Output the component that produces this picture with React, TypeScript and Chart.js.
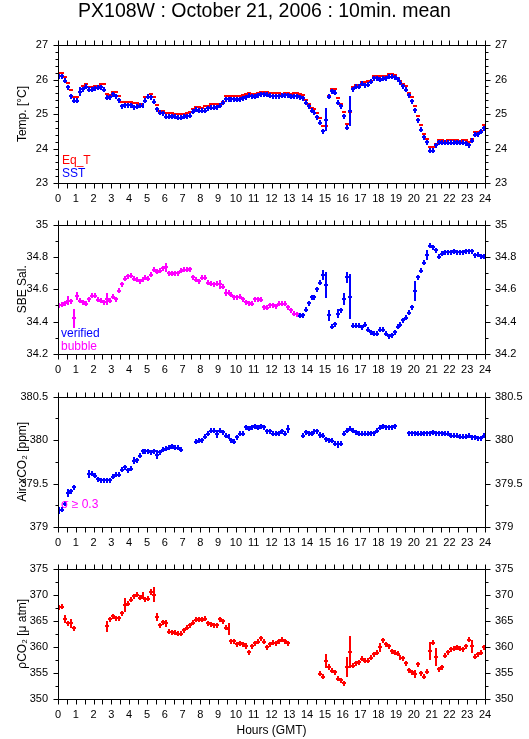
import React, { useEffect, useRef } from "react";
import { Chart, registerables } from "chart.js";
Chart.register(...registerables);

const FONT = "'Liberation Sans', Arial, Helvetica, sans-serif";
const TITLE = "PX108W : October 21, 2006 : 10min. mean";
const BIN_H = 1 / 6; // 10-minute bins, in hours
const N_BINS = 144;
const HOUR_TICKS = Array.from({ length: 25 }, (_, i) => i);

// ---------- Temperature ----------
const sst = [
  26.10, 26.10, 25.96, 25.77, 25.52, 25.39, 25.38, 25.65, 25.72, 25.79,
  25.71, 25.70, 25.74, 25.76, 25.77, 25.71, 25.47, 25.48, 25.57, 25.52,
  25.40, 25.23, 25.26, 25.26, 25.25, 25.20, 25.21, 25.24, 25.24, 25.39,
  25.50, 25.48, 25.36, 25.14, 25.03, 25.02, 24.92, 24.92, 24.93, 24.92,
  24.89, 24.89, 24.92, 24.94, 24.95, 25.07, 25.12, 25.10, 25.10, 25.09,
  25.16, 25.18, 25.18, 25.19, 25.24, 25.33, 25.43, 25.43, 25.43, 25.43,
  25.42, 25.43, 25.46, 25.48, 25.53, 25.51, 25.50, 25.55, 25.57, 25.57,
  25.56, 25.53, 25.52, 25.52, 25.52, 25.53, 25.55, 25.55, 25.50, 25.52,
  25.52, 25.49, 25.45, 25.33, 25.22, 25.09, 25.03, 24.91, 24.75, 24.50,
  24.83, 25.50, 25.66, 25.61, 25.32, 25.22, 24.93, 24.60, 25.08, 25.72,
  25.79, 25.79, 25.88, 25.83, 25.85, 25.93, 26.03, 26.03, 26.00, 26.02,
  26.03, 26.08, 26.08, 26.06, 26.01, 25.90, 25.80, 25.70, 25.55, 25.37,
  25.11, 24.82, 24.54, 24.33, 24.18, 23.94, 23.94, 24.09, 24.18, 24.17,
  24.17, 24.16, 24.17, 24.17, 24.18, 24.17, 24.16, 24.15, 24.09, 24.23,
  24.40, 24.41, 24.48, 24.59,
];
const sstErr: Record<number, number> = { 4: 0.07, 7: 0.12, 32: 0.08, 36: 0.07, 89: 0.05, 90: 0.33, 91: 0.06, 94: 0.05, 96: 0.05, 98: 0.43 };
const eqT = [
  26.18, 26.18, 26.08, 25.89, 25.70, 25.49, 25.48, 25.65, 25.82, 25.88,
  25.78, 25.77, 25.80, 25.82, 25.86, 25.86, 25.57, 25.56, 25.65, 25.63,
  25.52, 25.36, 25.34, 25.34, 25.34, 25.31, 25.31, 25.29, 25.27, 25.50,
  25.50, 25.57, 25.49, 25.26, 25.10, 25.09, 25.02, 25.02, 25.02, 25.00,
  24.99, 24.99, 25.01, 25.04, 25.05, 25.14, 25.21, 25.19, 25.18, 25.23,
  25.23, 25.28, 25.28, 25.28, 25.30, 25.36, 25.52, 25.52, 25.52, 25.52,
  25.52, 25.52, 25.55, 25.57, 25.62, 25.58, 25.58, 25.60, 25.65, 25.65,
  25.64, 25.60, 25.60, 25.60, 25.60, 25.58, 25.60, 25.62, 25.58, 25.61,
  25.61, 25.58, 25.56, 25.41, 25.29, 25.18, 25.14, 25.03, 24.87, 24.65,
  24.65, 25.52, 25.72, 25.72, 25.47, 25.30, 25.06, 24.72, 25.06, 25.77,
  25.85, 25.85, 25.93, 25.93, 25.95, 25.95, 26.11, 26.11, 26.09, 26.09,
  26.11, 26.15, 26.15, 26.13, 26.03, 25.97, 25.88, 25.80, 25.62, 25.48,
  25.22, 24.94, 24.69, 24.43, 24.28, 24.04, 24.04, 24.14, 24.25, 24.25,
  24.23, 24.25, 24.25, 24.25, 24.25, 24.22, 24.25, 24.24, 24.20, 24.28,
  24.48, 24.48, 24.52, 24.67,
];

// ---------- Salinity ----------
const sal = [
  34.500, 34.505, 34.515, 34.530, 34.525, 34.420, 34.560, 34.530, 34.520, 34.510,
  34.540, 34.560, 34.560, 34.535, 34.530, 34.520, 34.540, 34.530, 34.555, 34.540,
  34.590, 34.630, 34.665, 34.680, 34.685, 34.665, 34.660, 34.650, 34.660, 34.670,
  34.665, 34.690, 34.720, 34.710, 34.715, 34.730, 34.735, 34.700, 34.695, 34.700,
  34.700, 34.715, 34.720, 34.720, 34.725, 34.675, 34.660, 34.650, 34.670, 34.670,
  34.640, 34.635, 34.630, 34.635, 34.630, 34.615, 34.580, 34.580, 34.565, 34.550,
  34.550, 34.555, 34.540, 34.520, 34.515, 34.510, 34.540, 34.540, 34.535, 34.490,
  34.485, 34.500, 34.500, 34.495, 34.510, 34.510, 34.510, 34.490, 34.470, 34.450,
  34.445, 34.435, 34.440, 34.475, 34.515, 34.550, 34.550, 34.600, 34.640, 34.690,
  34.625, 34.440, 34.370, 34.385, 34.450, 34.470, 34.540, 34.675, 34.555, 34.375,
  34.375, 34.375, 34.365, 34.380, 34.350, 34.335, 34.325, 34.325, 34.350, 34.350,
  34.325, 34.310, 34.315, 34.335, 34.370, 34.380, 34.410, 34.425, 34.455, 34.490,
  34.590, 34.675, 34.715, 34.765, 34.810, 34.870, 34.860, 34.840, 34.800, 34.820,
  34.830, 34.830, 34.830, 34.835, 34.830, 34.830, 34.830, 34.835, 34.835, 34.835,
  34.810, 34.815, 34.805, 34.800,
];
const salErr: Record<number, number> = { 3: 0.026, 5: 0.06, 6: 0.025, 16: 0.04, 36: 0.025, 54: 0.03, 56: 0.02, 89: 0.03, 90: 0.08, 91: 0.035, 94: 0.03, 96: 0.04, 97: 0.035, 98: 0.14, 120: 0.06, 124: 0.03 };
const SAL_BUBBLE_BINS = 81; // bins 0..80 flagged "bubble", rest "verified"

// ---------- Air xCO2 ----------
const airCO2 = [
  379.19, 379.20, 379.27, 379.39, 379.41, 379.46, null, null, null, null,
  379.61, 379.61, 379.59, 379.55, 379.54, 379.54, 379.54, 379.54, 379.58, 379.60,
  379.60, 379.66, 379.69, 379.65, 379.67, 379.76, 379.77, 379.82, 379.87, 379.87,
  379.87, 379.86, 379.87, 379.83, 379.86, 379.89, 379.90, 379.91, 379.93, 379.91,
  379.91, 379.89, null, null, null, null, 379.98, 379.99, 380.00, 380.04,
  380.07, 380.11, 380.11, 380.07, 380.11, 380.09, 380.05, 380.04, 380.00, 379.98,
  380.03, 380.07, 380.07, 380.15, 380.13, 380.15, 380.16, 380.14, 380.16, 380.15,
  380.10, 380.10, 380.07, 380.07, 380.08, 380.10, 380.07, 380.13, null, null,
  null, null, 380.05, 380.09, 380.08, 380.07, 380.10, 380.10, 380.06, 380.05,
  380.01, 380.00, 379.99, 379.96, 379.95, 379.96, 380.07, 380.11, 380.13, 380.11,
  380.09, 380.07, 380.07, 380.07, 380.07, 380.08, 380.08, 380.11, 380.14, 380.16,
  380.15, 380.15, 380.15, 380.16, null, null, null, null, 380.08, 380.08,
  380.08, 380.07, 380.07, 380.08, 380.08, 380.08, 380.09, 380.08, 380.08, 380.08,
  380.07, 380.07, 380.05, 380.05, 380.05, 380.04, 380.04, 380.04, 380.05, 380.03,
  380.03, 380.02, 380.02, 380.05,
];
const airErr: Record<number, number> = { 0: 0.04, 3: 0.05, 4: 0.03, 10: 0.045, 25: 0.04, 33: 0.05, 46: 0.03, 53: 0.05, 77: 0.045, 88: 0.035, 94: 0.045 };

// ---------- pCO2 ----------
const pCO2 = [
  367.6, 367.7, 365.3, 364.5, 364.5, 363.6, null, null, null, null,
  null, null, null, null, null, null, 363.9, 365.3, 365.9, 365.5,
  365.5, 366.4, 368.0, 368.3, 369.0, 369.7, 370.0, 369.4, 369.8, 369.1,
  369.2, 370.5, 370.0, 365.7, 364.1, 364.7, 364.5, 362.9, 362.8, 362.7,
  362.5, 362.5, 363.2, 363.7, 364.1, 364.6, 365.2, 365.3, 365.2, 365.4,
  364.5, 364.3, 364.1, 364.1, 365.3, 364.9, 363.7, 363.4, 361.1, 361.1,
  360.5, 360.7, 360.5, 360.1, 359.0, 360.1, 360.7, 361.0, 361.6, 361.0,
  359.9, 360.5, 360.8, 360.7, 361.1, 361.4, 361.1, 360.7, null, null,
  null, null, null, null, null, null, null, null, 354.8, 354.3,
  357.3, 356.1, 355.4, 355.1, 353.9, 353.6, 353.0, 356.1, 359.0, 356.4,
  356.9, 357.0, 357.7, 357.3, 357.3, 357.9, 358.6, 358.9, 359.9, 361.3,
  360.5, 360.1, 359.2, 358.9, 358.7, 357.9, 357.8, 356.9, 355.5, 355.1,
  354.8, 356.7, 354.9, 354.3, 355.2, 359.2, 360.8, 358.1, 355.7, 356.1,
  358.3, 359.0, 359.5, 359.6, 359.9, 359.6, 359.5, 360.1, 361.4, 360.1,
  358.1, 358.6, 358.9, 359.9,
];
const pco2Err: Record<number, number> = { 2: 0.75, 4: 0.9, 16: 1.0, 22: 1.3, 28: 0.7, 31: 0.6, 32: 1.4, 33: 0.7, 36: 0.7, 49: 0.5, 57: 1.1, 63: 0.6, 68: 0.5, 90: 1.4, 91: 0.6, 97: 1.9, 98: 3.0, 108: 0.8, 120: 0.8, 125: 1.7, 127: 1.7, 139: 1.2 };

const binCentre = (i: number) => (i + 0.5) * BIN_H;

function toPoints(values: (number | null)[], errs: Record<number, number>, from = 0, to = N_BINS) {
  const pts: { x: number; y: number; err: number }[] = [];
  for (let i = from; i < to; i++) {
    const v = values[i];
    if (v === null || v === undefined) continue;
    pts.push({ x: binCentre(i), y: v, err: errs[i] || 0 });
  }
  return pts;
}

const RED = "#ff0000";
const BLUE = "#0000ff";
const MAGENTA = "#ff00ff";

type Series = { label: string; color: string; points: any[]; minHalf: number };
type PanelCfg = {
  canvasTop: number; canvasBottom: number; top: number; bottom: number;
  min: number; max: number; major: number; minor: number;
  yTitle: string; title?: string; xTitle?: string;
  series: Series[];
  notes: { text: string; color: string; dx: number; dy: number }[];
};

const panels: PanelCfg[] = [
  {
    canvasTop: 0, canvasBottom: 208, top: 45, bottom: 183,
    min: 23, max: 27, major: 1, minor: 0.2, yTitle: "Temp. [°C]", title: TITLE,
    series: [
      { label: "Eq_T", color: RED, points: toPoints(eqT, {}), minHalf: 0 },
      { label: "SST", color: BLUE, points: toPoints(sst, sstErr), minHalf: 2.5 },
    ],
    notes: [
      { text: "Eq_T", color: RED, dx: 4, dy: -19.5 },
      { text: "SST", color: BLUE, dx: 4, dy: -6 },
    ],
  },
  {
    canvasTop: 208, canvasBottom: 380, top: 217, bottom: 354,
    min: 34.2, max: 35, major: 0.2, minor: 0.1, yTitle: "SBE Sal.",
    series: [
      { label: "bubble", color: MAGENTA, points: toPoints(sal, salErr, 0, SAL_BUBBLE_BINS), minHalf: 2.5 },
      { label: "verified", color: BLUE, points: toPoints(sal, salErr, SAL_BUBBLE_BINS, N_BINS), minHalf: 2.5 },
    ],
    notes: [
      { text: "verified", color: BLUE, dx: 3, dy: -17 },
      { text: "bubble", color: MAGENTA, dx: 3, dy: -4.5 },
    ],
  },
  {
    canvasTop: 380, canvasBottom: 552, top: 388, bottom: 527,
    min: 379, max: 380.5, major: 0.5, minor: 0.25, yTitle: "Air xCO₂ [ppm]",
    series: [{ label: "air", color: BLUE, points: toPoints(airCO2, airErr), minHalf: 2.5 }],
    notes: [{ text: "σ ≥ 0.3", color: MAGENTA, dx: 3, dy: -19 }],
  },
  {
    canvasTop: 552, canvasBottom: 739, top: 560, bottom: 699,
    min: 350, max: 375, major: 5, minor: 2.5, yTitle: "ρCO₂ [μ atm]", xTitle: "Hours (GMT)",
    series: [{ label: "pCO2", color: RED, points: toPoints(pCO2, pco2Err), minHalf: 2.5 }],
    notes: [],
  },
];

const errBarPlugin = {
  id: "errbars",
  afterDatasetsDraw(chart: any) {
    const { ctx } = chart;
    const xs = chart.scales.x;
    const ys = chart.scales.y;
    const half = (xs.getPixelForValue(BIN_H) - xs.getPixelForValue(0)) / 2;
    chart.data.datasets.forEach((ds: any, di: number) => {
      const meta = chart.getDatasetMeta(di);
      ctx.save();
      ctx.strokeStyle = ds.borderColor;
      ctx.lineWidth = 2;
      ctx.lineCap = "butt";
      ctx.beginPath();
      meta.data.forEach((el: any, j: number) => {
        const pt = ds.data[j];
        const cx = Math.round(el.x);
        const cy = Math.round(el.y);
        ctx.moveTo(Math.round(el.x - half - 0.5), cy);
        ctx.lineTo(Math.round(el.x + half + 0.5), cy);
        const e = pt.err ? Math.abs(ys.getPixelForValue(pt.y + pt.err) - el.y) : 0;
        const h = Math.max(e, ds.minHalf || 0);
        if (h > 0) {
          ctx.moveTo(cx, Math.round(el.y - h));
          ctx.lineTo(cx, Math.round(el.y + h));
        }
      });
      ctx.stroke();
      ctx.restore();
    });
  },
};

const framePlugin = {
  id: "frame",
  afterDraw(chart: any, _args: any, opts: any) {
    const { ctx, chartArea: a } = chart;
    const xs = chart.scales.x;
    const ys = chart.scales.y;
    const L = Math.round(a.left) + 0.5;
    const R = Math.round(a.right) + 0.5;
    const T = Math.round(a.top) + 0.5;
    const B = Math.round(a.bottom) + 0.5;
    ctx.save();
    ctx.strokeStyle = "#000";
    ctx.lineWidth = 1;
    ctx.beginPath();
    ctx.rect(L, T, R - L, B - T);
    // half-hour ticks on top and bottom
    for (let h = 0; h <= 24; h += 0.5) {
      const x = Math.round(xs.getPixelForValue(h)) + 0.5;
      ctx.moveTo(x, T); ctx.lineTo(x, T - 5);
      ctx.moveTo(x, B); ctx.lineTo(x, B + 5);
    }
    const { min, max, major, minor } = opts;
    const n = Math.round((max - min) / minor);
    for (let k = 0; k <= n; k++) {
      const v = min + k * minor;
      const isMajor = Math.abs(v / major - Math.round(v / major)) < 1e-6;
      const len = isMajor ? 5 : 3;
      const y = Math.round(ys.getPixelForValue(v)) + 0.5;
      ctx.moveTo(L, y); ctx.lineTo(L - len, y);
      ctx.moveTo(R, y); ctx.lineTo(R + len, y);
    }
    ctx.stroke();
    ctx.restore();
  },
};

const notesPlugin = {
  id: "notes",
  afterDraw(chart: any, _args: any, opts: any) {
    const { ctx, chartArea: a } = chart;
    ctx.save();
    ctx.font = `12px ${FONT}`;
    ctx.textBaseline = "alphabetic";
    ctx.textAlign = "left";
    (opts.items || []).forEach((it: any) => {
      ctx.fillStyle = it.color;
      ctx.fillText(it.text, a.left + it.dx, a.bottom + it.dy);
    });
    ctx.restore();
  },
};

const fmt = (v: any) => String(Number(Number(v).toFixed(3)));

function makeConfig(p: PanelCfg): any {
  const xAxisH = p.canvasBottom - p.bottom;
  const tickFont = { family: FONT, size: 11 };
  const yTicks = { stepSize: p.major, padding: 10, color: "#000", font: tickFont, callback: fmt };
  const titleSize = 19.5;
  const titleLH = titleSize * 1.2;
  return {
    type: "scatter",
    data: {
      datasets: p.series.map((s) => ({
        label: s.label,
        data: s.points,
        pointRadius: 0,
        pointHoverRadius: 0,
        showLine: false,
        borderColor: s.color,
        backgroundColor: s.color,
        minHalf: s.minHalf,
      })),
    },
    options: {
      responsive: false,
      animation: false,
      devicePixelRatio: 1,
      events: [],
      layout: { padding: { top: p.title ? 0 : p.top - p.canvasTop, left: 0, right: 0, bottom: 0 } },
      plugins: {
        legend: { display: false },
        tooltip: { enabled: false },
        title: p.title
          ? {
              display: true,
              text: p.title,
              color: "#000",
              font: { family: FONT, size: titleSize, weight: "normal", lineHeight: 1.2 },
              padding: { top: 0, bottom: p.top - p.canvasTop - titleLH },
            }
          : { display: false },
        frame: { min: p.min, max: p.max, major: p.major, minor: p.minor },
        notes: { items: p.notes },
      },
      scales: {
        x: {
          type: "linear",
          position: "bottom",
          min: 0,
          max: 24,
          afterBuildTicks: (s: any) => { s.ticks = HOUR_TICKS.map((v) => ({ value: v })); },
          afterFit: (s: any) => { s.height = xAxisH; },
          grid: { display: false, drawTicks: false },
          border: { display: false },
          ticks: { autoSkip: false, maxRotation: 0, minRotation: 0, padding: 9, color: "#000", font: tickFont, callback: fmt },
          title: p.xTitle
            ? { display: true, text: p.xTitle, color: "#000", font: { family: FONT, size: 12 }, padding: { top: 0, bottom: 1 } }
            : { display: false },
        },
        y: {
          type: "linear",
          position: "left",
          min: p.min,
          max: p.max,
          afterFit: (s: any) => { s.width = 58; },
          grid: { display: false, drawTicks: false },
          border: { display: false },
          ticks: yTicks,
          title: { display: true, text: p.yTitle, color: "#000", font: { family: FONT, size: 12 }, padding: { top: 15, bottom: 0 } },
        },
        yR: {
          type: "linear",
          position: "right",
          min: p.min,
          max: p.max,
          afterFit: (s: any) => { s.width = 44; },
          grid: { display: false, drawTicks: false },
          border: { display: false },
          ticks: yTicks,
        },
      },
    },
    plugins: [errBarPlugin, framePlugin, notesPlugin],
  };
}

function Panel({ p }: { p: PanelCfg }) {
  const ref = useRef<HTMLCanvasElement>(null);
  useEffect(() => {
    if (!ref.current) return;
    const chart = new Chart(ref.current, makeConfig(p));
    return () => chart.destroy();
  }, [p]);
  const h = p.canvasBottom - p.canvasTop;
  return (
    <canvas
      ref={ref}
      width={529}
      height={h}
      style={{ position: "absolute", left: 0, top: p.canvasTop, width: 529, height: h, display: "block" }}
    />
  );
}

export default function App() {
  return (
    <div style={{ position: "absolute", left: 0, top: 0, width: 529, height: 739, background: "#fff", overflow: "hidden" }}>
      {panels.map((p, i) => (
        <Panel key={i} p={p} />
      ))}
    </div>
  );
}
